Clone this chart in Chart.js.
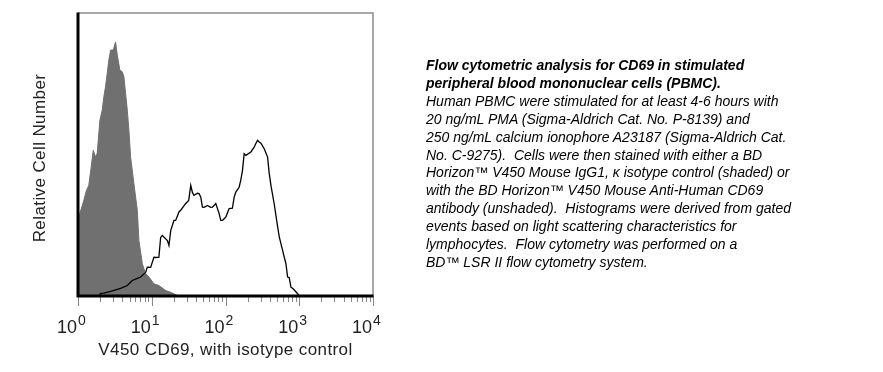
<!DOCTYPE html>
<html>
<head>
<meta charset="utf-8">
<script src="https://cdn.jsdelivr.net/npm/chart.js@4"></script>
<style>
  html, body { margin: 0; padding: 0; background: #fff; }
  #wrap { position: relative; width: 883px; height: 372px; }
  #legend-text {
    position: absolute; left: 426px; top: 57px;
    font: italic 14px "Liberation Sans", Arial, sans-serif;
    line-height: 17.9px; color: #000; white-space: nowrap;
  }
  #legend-text b { font-weight: bold; }
</style>
</head>
<body>
<div id="wrap">
  <canvas id="histo" width="883" height="372"></canvas>
  <div id="legend-text">
    <b>Flow cytometric analysis for CD69 in stimulated<br>
    peripheral blood mononuclear cells (PBMC).</b><br>
    Human PBMC were stimulated for at least 4-6 hours with<br>
    20 ng/mL PMA (Sigma-Aldrich Cat. No. P-8139) and<br>
    250 ng/mL calcium ionophore A23187 (Sigma-Aldrich Cat.<br>
    No. C-9275).&nbsp; Cells were then stained with either a BD<br>
    Horizon™ V450 Mouse IgG1, κ isotype control (shaded) or<br>
    with the BD Horizon™ V450 Mouse Anti-Human CD69<br>
    antibody (unshaded).&nbsp; Histograms were derived from gated<br>
    events based on light scattering characteristics for<br>
    lymphocytes.&nbsp; Flow cytometry was performed on a<br>
    BD™ LSR II flow cytometry system.
  </div>
</div>
<script>
// decade exponents for the x tick labels (10^0 .. 10^4)
const xTickExps = [0, 1, 2, 3, 4];

// isotype control (shaded)
const isoX = [1.0, 1.2, 1.3, 1.4, 1.51, 1.61, 1.73, 1.82, 1.98, 2.13, 2.24, 2.36, 2.49, 2.62, 2.77, 3.01, 3.23, 3.41, 3.70, 3.99,
  4.19, 4.42, 4.66, 4.90, 5.17, 5.73, 6.37, 6.70, 7.45, 8.26, 9.16, 10.7, 12.5, 15.5, 18.1, 22.3, 24];
const isoY = [27.0, 33.8, 37.3, 39.1, 45.6, 51.5, 49.1, 50.4, 62.1, 65.7, 70.4, 73.9, 78.7, 83.4, 86.9, 86.9, 89.8, 85.1, 79.8, 79.2,
  77.5, 71.6, 65.7, 58.6, 49.1, 39.7, 30.3, 19.6, 11.4, 7.9, 6.7, 4.3, 3.7, 1.9, 1.3, 0.2, 0];

// anti-CD69 (unshaded)
const cd69X = [1.95, 2.02, 2.24, 2.77, 3.78, 4.66, 5.45, 6.37, 7.07, 8.26, 8.71, 9.66, 10.7, 11.3, 12.5, 13.2, 13.9, 16.3, 17.1, 18.1,
  20.0, 21.1, 23.4, 24.7, 28.9, 31.7, 33.8, 35.6, 37.4, 41.7, 43.8, 46.2, 48.7, 51.2, 56.9, 63.1, 66.6, 73.8, 81.8, 86.3,
  91.0, 101, 112, 124, 131, 138, 153, 161, 170, 179, 189, 221, 245, 258, 272, 286, 302, 334, 372, 391,
  413, 457, 509, 535, 564, 595, 626, 659, 695, 731, 771, 813, 951, 1000];
const cd69Y = [0, 0.9, 1.0, 1.6, 2.7, 3.7, 5.5, 6.2, 6.7, 8.3, 10.2, 10.1, 13.7, 13.6, 13.7, 20.7, 21.4, 19.6, 17.9, 23.2,
  26.7, 26.7, 29.7, 30.3, 32.7, 33.8, 39.1, 36.6, 35.6, 36.3, 36.2, 34.9, 31.4, 31.3, 32.0, 31.3, 31.4, 32.7, 29.2, 26.7,
  26.7, 27.9, 30.9, 31.0, 34.9, 36.7, 38.4, 40.9, 44.4, 50.3, 49.7, 50.9, 52.6, 53.9, 55.0, 54.4, 54.0, 52.1, 49.1, 43.4,
  39.1, 32.6, 24.5, 21.0, 18.5, 16.1, 13.7, 11.5, 6.7, 6.5, 3.1, 2.7, 0.8, 0];

const toPoints = (xs, ys) => xs.map((x, i) => ({ x, y: ys[i] }));
const labelFont = '"Liberation Sans", Arial, sans-serif';

// frame, ticks and axis labels drawn by hand to match the cytometer plot
const frame = {
  id: 'frame',
  afterDraw(chart) {
    const { ctx, chartArea: a } = chart;
    const x = chart.scales.x;
    ctx.save();

    ctx.strokeStyle = '#8c8c8c';
    ctx.lineWidth = 1.5;
    ctx.beginPath();
    ctx.moveTo(a.left, a.top);
    ctx.lineTo(a.right, a.top);
    ctx.lineTo(a.right, a.bottom);
    ctx.stroke();

    ctx.strokeStyle = '#888';
    ctx.lineWidth = 1;
    ctx.beginPath();
    xTickExps.forEach(e => {
      const steps = e < 4 ? 9 : 1;
      for (let k = 1; k <= steps; k++) {
        const px = Math.round(x.getPixelForValue(k * Math.pow(10, e))) + 0.5;
        const len = k === 1 ? 10 : 6;
        ctx.moveTo(px, a.bottom);
        ctx.lineTo(px, a.bottom + len);
      }
    });
    ctx.stroke();

    ctx.strokeStyle = '#000';
    ctx.lineWidth = 3;
    ctx.beginPath();
    ctx.moveTo(a.left, a.top - 0.5);
    ctx.lineTo(a.left, a.bottom);
    ctx.lineTo(a.right + 0.5, a.bottom);
    ctx.stroke();

    ctx.fillStyle = '#222';
    xTickExps.forEach(e => {
      const px = x.getPixelForValue(Math.pow(10, e));
      ctx.font = '18px ' + labelFont;
      ctx.textAlign = 'right';
      ctx.fillText('10', px - 1, 333);
      ctx.font = '14px ' + labelFont;
      ctx.textAlign = 'left';
      ctx.fillText(String(e), px, 325);
    });

    ctx.font = '17px ' + labelFont;
    ctx.letterSpacing = '0.4px';
    ctx.textAlign = 'center';
    ctx.fillText('V450 CD69, with isotype control', (a.left + a.right) / 2, 355);

    ctx.translate(45, 158);
    ctx.rotate(-Math.PI / 2);
    ctx.fillText('Relative Cell Number', 0, 0);
    ctx.restore();
  }
};

new Chart(document.getElementById('histo'), {
  type: 'line',
  data: {
    datasets: [{
      label: 'Anti-Human CD69',
      data: toPoints(cd69X, cd69Y),
      borderColor: '#000',
      borderWidth: 1.3,
      pointRadius: 0,
      fill: false
    }, {
      label: 'Isotype control',
      data: toPoints(isoX, isoY),
      borderColor: '#707070',
      backgroundColor: '#707070',
      borderWidth: 1,
      pointRadius: 0,
      fill: 'origin'
    }]
  },
  options: {
    responsive: false,
    animation: false,
    devicePixelRatio: 1,
    layout: { padding: { left: 78, right: 510, top: 13, bottom: 76 } },
    scales: {
      x: { type: 'logarithmic', min: 1, max: 10000, display: false },
      y: { type: 'linear', min: 0, max: 100, display: false }
    },
    plugins: { legend: { display: false }, tooltip: { enabled: false } }
  },
  plugins: [frame]
});
</script>
</body>
</html>
